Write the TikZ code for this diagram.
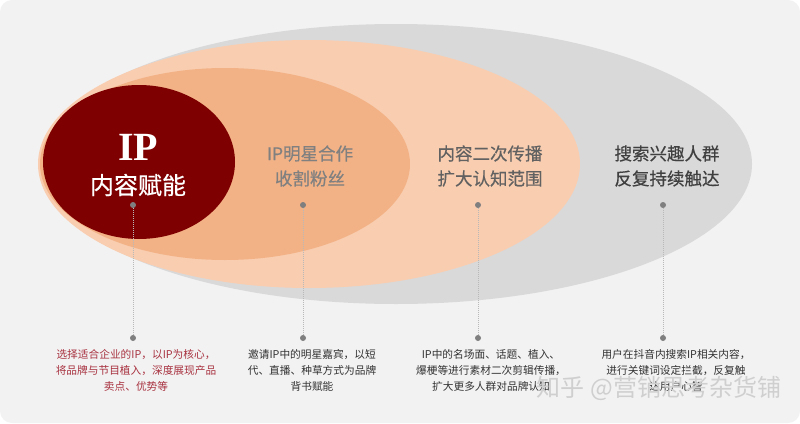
\documentclass[tikz,border=0pt]{standalone}
\usepackage{fontspec}
\usetikzlibrary{shapes.geometric}
\setmainfont{Noto Sans CJK SC}
\newfontfamily\cjk{Noto Sans CJK SC}
\newfontfamily\cjkm{Noto Sans CJK SC}[FakeBold=0.5]
\newfontfamily\ipfont{Liberation Serif}
\definecolor{bgc}{HTML}{F2F2F2}
\definecolor{grayell}{HTML}{D9D9D9}
\definecolor{peach}{HTML}{F9CDB0}
\definecolor{midor}{HTML}{F3B286}
\definecolor{darkred}{HTML}{7F0000}
\definecolor{redtxt}{HTML}{A83240}
\definecolor{dotc}{HTML}{7F7F7F}
\definecolor{linec}{HTML}{B8B8B8}
\definecolor{wmark}{HTML}{CFCFCF}
\tikzset{
  ell/.style={ellipse, draw=none, inner sep=0pt},
  dotn/.style={circle, fill=dotc, inner sep=0pt, minimum size=6pt},
  conn/.style={linec, line width=0.8pt, dash pattern=on 1pt off 1pt},
  title/.style={align=center, inner sep=0pt, font=\cjkm\fontsize{17.5}{25}\selectfont},
  desc/.style={align=center, inner sep=0pt, font=\cjk\fontsize{10.7}{16}\selectfont, text=black!80},
}
\begin{document}
\begin{tikzpicture}[x=1pt, y=-1pt]
\useasboundingbox (0,0) rectangle (800,423);
\fill[white] (0,0) rectangle (800,423);
\fill[bgc, rounded corners=12pt] (0,0) rectangle (800,423);
% ellipses
\node[ell, fill=grayell, minimum width=712pt, minimum height=280pt] (e4) at (396,164) {};
\node[ell, fill=peach, minimum width=542pt, minimum height=248pt] (e3) at (309,164) {};
\node[ell, fill=midor, minimum width=370pt, minimum height=192pt] (e2) at (225,164) {};
\node[ell, fill=darkred, minimum width=192pt, minimum height=154pt] (e1) at (139,162) {};
% titles
\node[inner sep=0pt, text=white, font=\ipfont\bfseries\fontsize{40}{40}\selectfont] (ip) at (138,147) {IP};
\node[inner sep=0pt, text=white, font=\cjkm\fontsize{24}{24}\selectfont] (t1) at (138,185) {内容赋能};
\node[title, text=black!50] (t2) at (310,166) {IP明星合作\\收割粉丝};
\node[title, text=black!62] (t3) at (490,166) {内容二次传播\\扩大认知范围};
\node[title, text=black!75] (t4) at (667,166) {搜索兴趣人群\\反复持续触达};
% dots and connectors
\node[dotn] (a1) at (133,205) {};
\node[dotn] (b1) at (133,338) {};
\node[dotn] (a2) at (303,205) {};
\node[dotn] (b2) at (303,338) {};
\node[dotn] (a3) at (478,205) {};
\node[dotn] (b3) at (478,338) {};
\node[dotn] (a4) at (663,205) {};
\node[dotn] (b4) at (663,338) {};
\draw[conn] (a1) -- (b1);
\draw[conn] (a2) -- (b2);
\draw[conn] (a3) -- (b3);
\draw[conn] (a4) -- (b4);
% descriptions
\node[desc, text=redtxt, anchor=north] (d1) at (136,349) {选择适合企业的IP，以IP为核心，\\将品牌与节目植入，深度展现产品\\卖点、优势等};
\node[desc, anchor=north] (d2) at (312,349) {邀请IP中的明星嘉宾，以短\\代、直播、种草方式为品牌\\背书赋能};
\node[desc, anchor=north] (d3) at (491,349) {IP中的名场面、话题、植入、\\爆梗等进行素材二次剪辑传播，\\扩大更多人群对品牌认知};
\node[desc, anchor=north] (d4) at (676,349) {用户在抖音内搜索IP相关内容，\\进行关键词设定拦截，反复触\\达用户心智};
% watermark
\node[inner sep=0pt, text=wmark, font=\cjk\fontsize{24}{24}\selectfont] (wm) at (659,388) {知乎 @营销思考杂货铺};
\end{tikzpicture}
\end{document}
